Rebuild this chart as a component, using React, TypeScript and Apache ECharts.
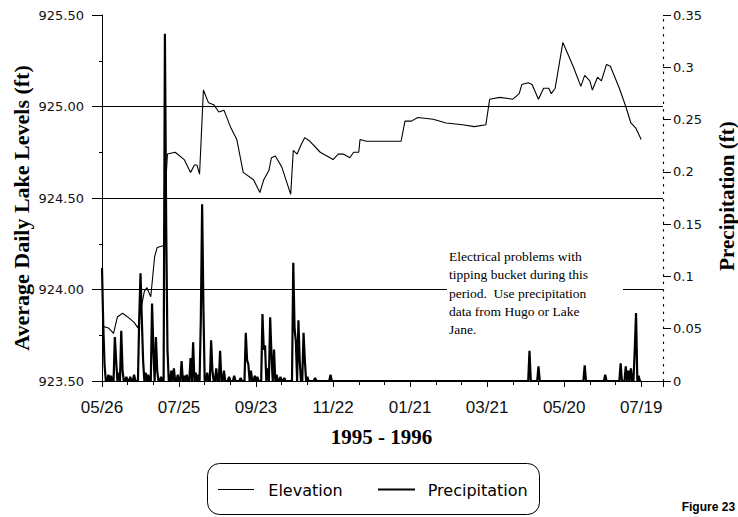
import React, { useEffect, useRef } from "react";
import * as echarts from "echarts";

// Days counted from 05/26/1995
const elevDays = [0, 5, 9, 12, 16, 20, 25, 28, 30, 33, 35, 38, 41, 43, 48, 50, 51, 57, 64, 69, 72, 74, 76, 79, 83, 87, 91, 95, 100, 105, 110, 118, 123, 126, 130, 132, 135, 140, 147, 149, 152, 155, 158, 162, 170, 180, 184, 188, 193, 196, 200, 201, 206, 233, 236, 241, 246, 258, 268, 281, 290, 299, 302, 310, 320, 325, 327, 332, 335, 340, 344, 348, 350, 353, 359, 367, 373, 376, 380, 382, 386, 389, 393, 396, 403, 408, 412, 416, 420];
const elevLevels = [923.80, 923.79, 923.76, 923.85, 923.87, 923.85, 923.82, 923.79, 923.88, 923.99, 924.01, 923.96, 924.18, 924.23, 924.24, 924.62, 924.74, 924.75, 924.71, 924.64, 924.68, 924.68, 924.63, 925.09, 925.02, 925.01, 924.97, 924.98, 924.89, 924.82, 924.64, 924.60, 924.53, 924.60, 924.65, 924.72, 924.73, 924.67, 924.52, 924.76, 924.74, 924.79, 924.83, 924.81, 924.75, 924.71, 924.74, 924.74, 924.72, 924.75, 924.75, 924.82, 924.81, 924.81, 924.92, 924.92, 924.94, 924.93, 924.91, 924.90, 924.89, 924.90, 925.04, 925.05, 925.04, 925.07, 925.12, 925.13, 925.12, 925.04, 925.10, 925.10, 925.07, 925.10, 925.35, 925.22, 925.11, 925.17, 925.14, 925.09, 925.16, 925.14, 925.23, 925.22, 925.10, 925.00, 924.91, 924.88, 924.82];

// Rain days (all other days of the record read as 0)
const precipDays = [0, 1, 2, 5, 7, 10, 11, 13, 15, 16, 19, 22, 25, 29, 30, 31, 32, 34, 36, 39, 40, 42, 43, 46, 49, 50, 51, 54, 56, 59, 62, 64, 66, 69, 71, 73, 75, 77, 78, 79, 82, 85, 86, 89, 92, 95, 99, 103, 108, 112, 113, 114, 116, 119, 121, 125, 126, 127, 129, 131, 132, 134, 136, 139, 142, 149, 150, 151, 153, 154, 157, 158, 160, 166, 178, 333, 340, 376, 392, 404, 408, 410, 412, 415, 416, 418];
const precipValues = [0.108, 0.052, 0.015, 0.006, 0.005, 0.042, 0.02, 0.008, 0.048, 0.01, 0.004, 0.004, 0.006, 0.06, 0.103, 0.06, 0.02, 0.008, 0.006, 0.074, 0.03, 0.042, 0.01, 0.004, 0.332, 0.149, 0.03, 0.01, 0.012, 0.006, 0.019, 0.005, 0.006, 0.022, 0.037, 0.008, 0.006, 0.06, 0.169, 0.07, 0.008, 0.039, 0.01, 0.012, 0.029, 0.01, 0.004, 0.005, 0.003, 0.046, 0.02, 0.016, 0.01, 0.005, 0.004, 0.064, 0.03, 0.034, 0.012, 0.061, 0.025, 0.03, 0.006, 0.004, 0.003, 0.113, 0.05, 0.038, 0.058, 0.02, 0.046, 0.02, 0.004, 0.003, 0.006, 0.029, 0.014, 0.015, 0.006, 0.017, 0.014, 0.01, 0.012, 0.03, 0.065, 0.005];
const lastDay = 420;

const noteLines = [
  "Electrical problems with",
  "tipping bucket during this",
  "period.  Use precipitation",
  "data from Hugo or Lake",
  "Jane.",
];

const startUTC = Date.UTC(1995, 4, 26);
function dayLabel(d: number): string {
  const t = new Date(startUTC + d * 86400000);
  const mm = String(t.getUTCMonth() + 1).padStart(2, "0");
  const dd = String(t.getUTCDate()).padStart(2, "0");
  return mm + "/" + dd;
}

export default function App() {
  const ref = useRef<HTMLDivElement>(null);
  useEffect(() => {
    if (!ref.current) return;
    const chart = echarts.init(ref.current, null, { renderer: "svg" });
    const elevData = elevDays.map((d, i) => [d, elevLevels[i]]);
    const rain: number[][] = [];
    for (let d = 0; d <= lastDay; d++) {
      const k = precipDays.indexOf(d);
      rain.push([d, k >= 0 ? precipValues[k] : 0]);
    }
    const black = "#000";
    chart.setOption({
      animation: false,
      backgroundColor: "#fff",
      grid: { left: 102, right: 75, top: 15, bottom: 136 },
      xAxis: {
        type: "value",
        min: 0,
        max: 437,
        interval: 60,
        axisLine: { lineStyle: { color: black, width: 1 } },
        axisTick: { length: 6, lineStyle: { color: black } },
        minorTick: { show: true, splitNumber: 3, length: 4, lineStyle: { color: black } },
        splitLine: { show: false },
        axisLabel: {
          formatter: (v: number) => (v % 60 === 0 && v <= lastDay ? dayLabel(v) : ""),
          fontFamily: "Liberation Sans",
          fontSize: 17,
          color: "#111",
          margin: 18,
        },
      },
      yAxis: [
        {
          type: "value",
          position: "left",
          min: 923.5,
          max: 925.5,
          interval: 0.5,
          axisLine: { show: true, lineStyle: { color: black, width: 1 } },
          axisTick: { show: true, length: 10, lineStyle: { color: black } },
          minorTick: { show: true, splitNumber: 2, length: 3, lineStyle: { color: black } },
          splitLine: { show: true, showMinLine: false, showMaxLine: false, lineStyle: { color: black, width: 1 } },
          axisLabel: {
            formatter: (v: number) => v.toFixed(2),
            fontFamily: "DejaVu Sans",
            fontSize: 13,
            color: "#111",
            margin: 18,
          },
        },
        {
          type: "value",
          position: "right",
          min: 0,
          max: 0.35,
          interval: 0.05,
          axisLine: { show: true, lineStyle: { color: black, width: 1.2, type: [1.5, 6] } },
          axisTick: { show: true, length: 8, lineStyle: { color: black } },
          splitLine: { show: false },
          axisLabel: {
            formatter: (v: number) => String(+v.toFixed(2)),
            fontFamily: "DejaVu Sans",
            fontSize: 13,
            color: "#111",
            margin: 10,
          },
        },
      ],
      series: [
        {
          name: "Precipitation",
          type: "line",
          yAxisIndex: 1,
          data: rain,
          symbol: "none",
          lineStyle: { color: black, width: 2.2 },
          z: 2,
        },
        {
          name: "Elevation",
          type: "line",
          yAxisIndex: 0,
          data: elevData,
          symbol: "none",
          lineStyle: { color: black, width: 1.1 },
          z: 3,
        },
      ],
      graphic: [
        {
          type: "text",
          x: 21,
          y: 208,
          rotation: Math.PI / 2,
          z: 100,
          style: {
            text: "Average Daily Lake Levels (ft)",
            font: 'bold 22px "Liberation Serif"',
            fill: "#000",
            align: "center",
            verticalAlign: "middle",
          },
        },
        {
          type: "text",
          x: 727,
          y: 196,
          rotation: Math.PI / 2,
          z: 100,
          style: {
            text: "Precipitation (ft)",
            font: 'bold 21px "Liberation Serif"',
            fill: "#000",
            align: "center",
            verticalAlign: "middle",
          },
        },
        {
          type: "text",
          x: 381.5,
          y: 437,
          z: 100,
          style: {
            text: "1995 - 1996",
            font: 'bold 21px "Liberation Serif"',
            fill: "#000",
            align: "center",
            verticalAlign: "middle",
          },
        },
        {
          type: "rect",
          z: 100,
          shape: { x: 447, y: 245, width: 176, height: 95 },
          style: { fill: "#fff" },
        },
        {
          type: "text",
          x: 449,
          y: 247.6,
          z: 101,
          style: {
            text: noteLines.join("\n"),
            font: '13.5px "Liberation Serif"',
            lineHeight: 18.2,
            fill: "#000",
            align: "left",
            verticalAlign: "top",
          },
        },
        {
          type: "rect",
          z: 100,
          shape: { x: 207.5, y: 463.5, width: 332, height: 51, r: 12 },
          style: { fill: "#fff", stroke: "#000", lineWidth: 1 },
        },
        {
          type: "line",
          z: 101,
          shape: { x1: 218, y1: 489.5, x2: 254, y2: 489.5 },
          style: { stroke: "#000", lineWidth: 1 },
        },
        {
          type: "text",
          x: 268.3,
          y: 490,
          z: 101,
          style: {
            text: "Elevation",
            font: '16px "DejaVu Sans"',
            fill: "#000",
            align: "left",
            verticalAlign: "middle",
          },
        },
        {
          type: "line",
          z: 101,
          shape: { x1: 378, y1: 489.5, x2: 415, y2: 489.5 },
          style: { stroke: "#000", lineWidth: 2 },
        },
        {
          type: "text",
          x: 427.7,
          y: 490,
          z: 101,
          style: {
            text: "Precipitation",
            font: '16px "DejaVu Sans"',
            fill: "#000",
            align: "left",
            verticalAlign: "middle",
          },
        },
        {
          type: "text",
          x: 681.7,
          y: 507,
          z: 101,
          style: {
            text: "Figure 23",
            font: 'bold 12px "Liberation Sans"',
            fill: "#000",
            align: "left",
            verticalAlign: "middle",
          },
        },
      ],
    });
    return () => chart.dispose();
  }, []);
  return (
    <div
      ref={ref}
      style={{ position: "fixed", left: 0, top: 0, width: 738, height: 517 }}
    />
  );
}
